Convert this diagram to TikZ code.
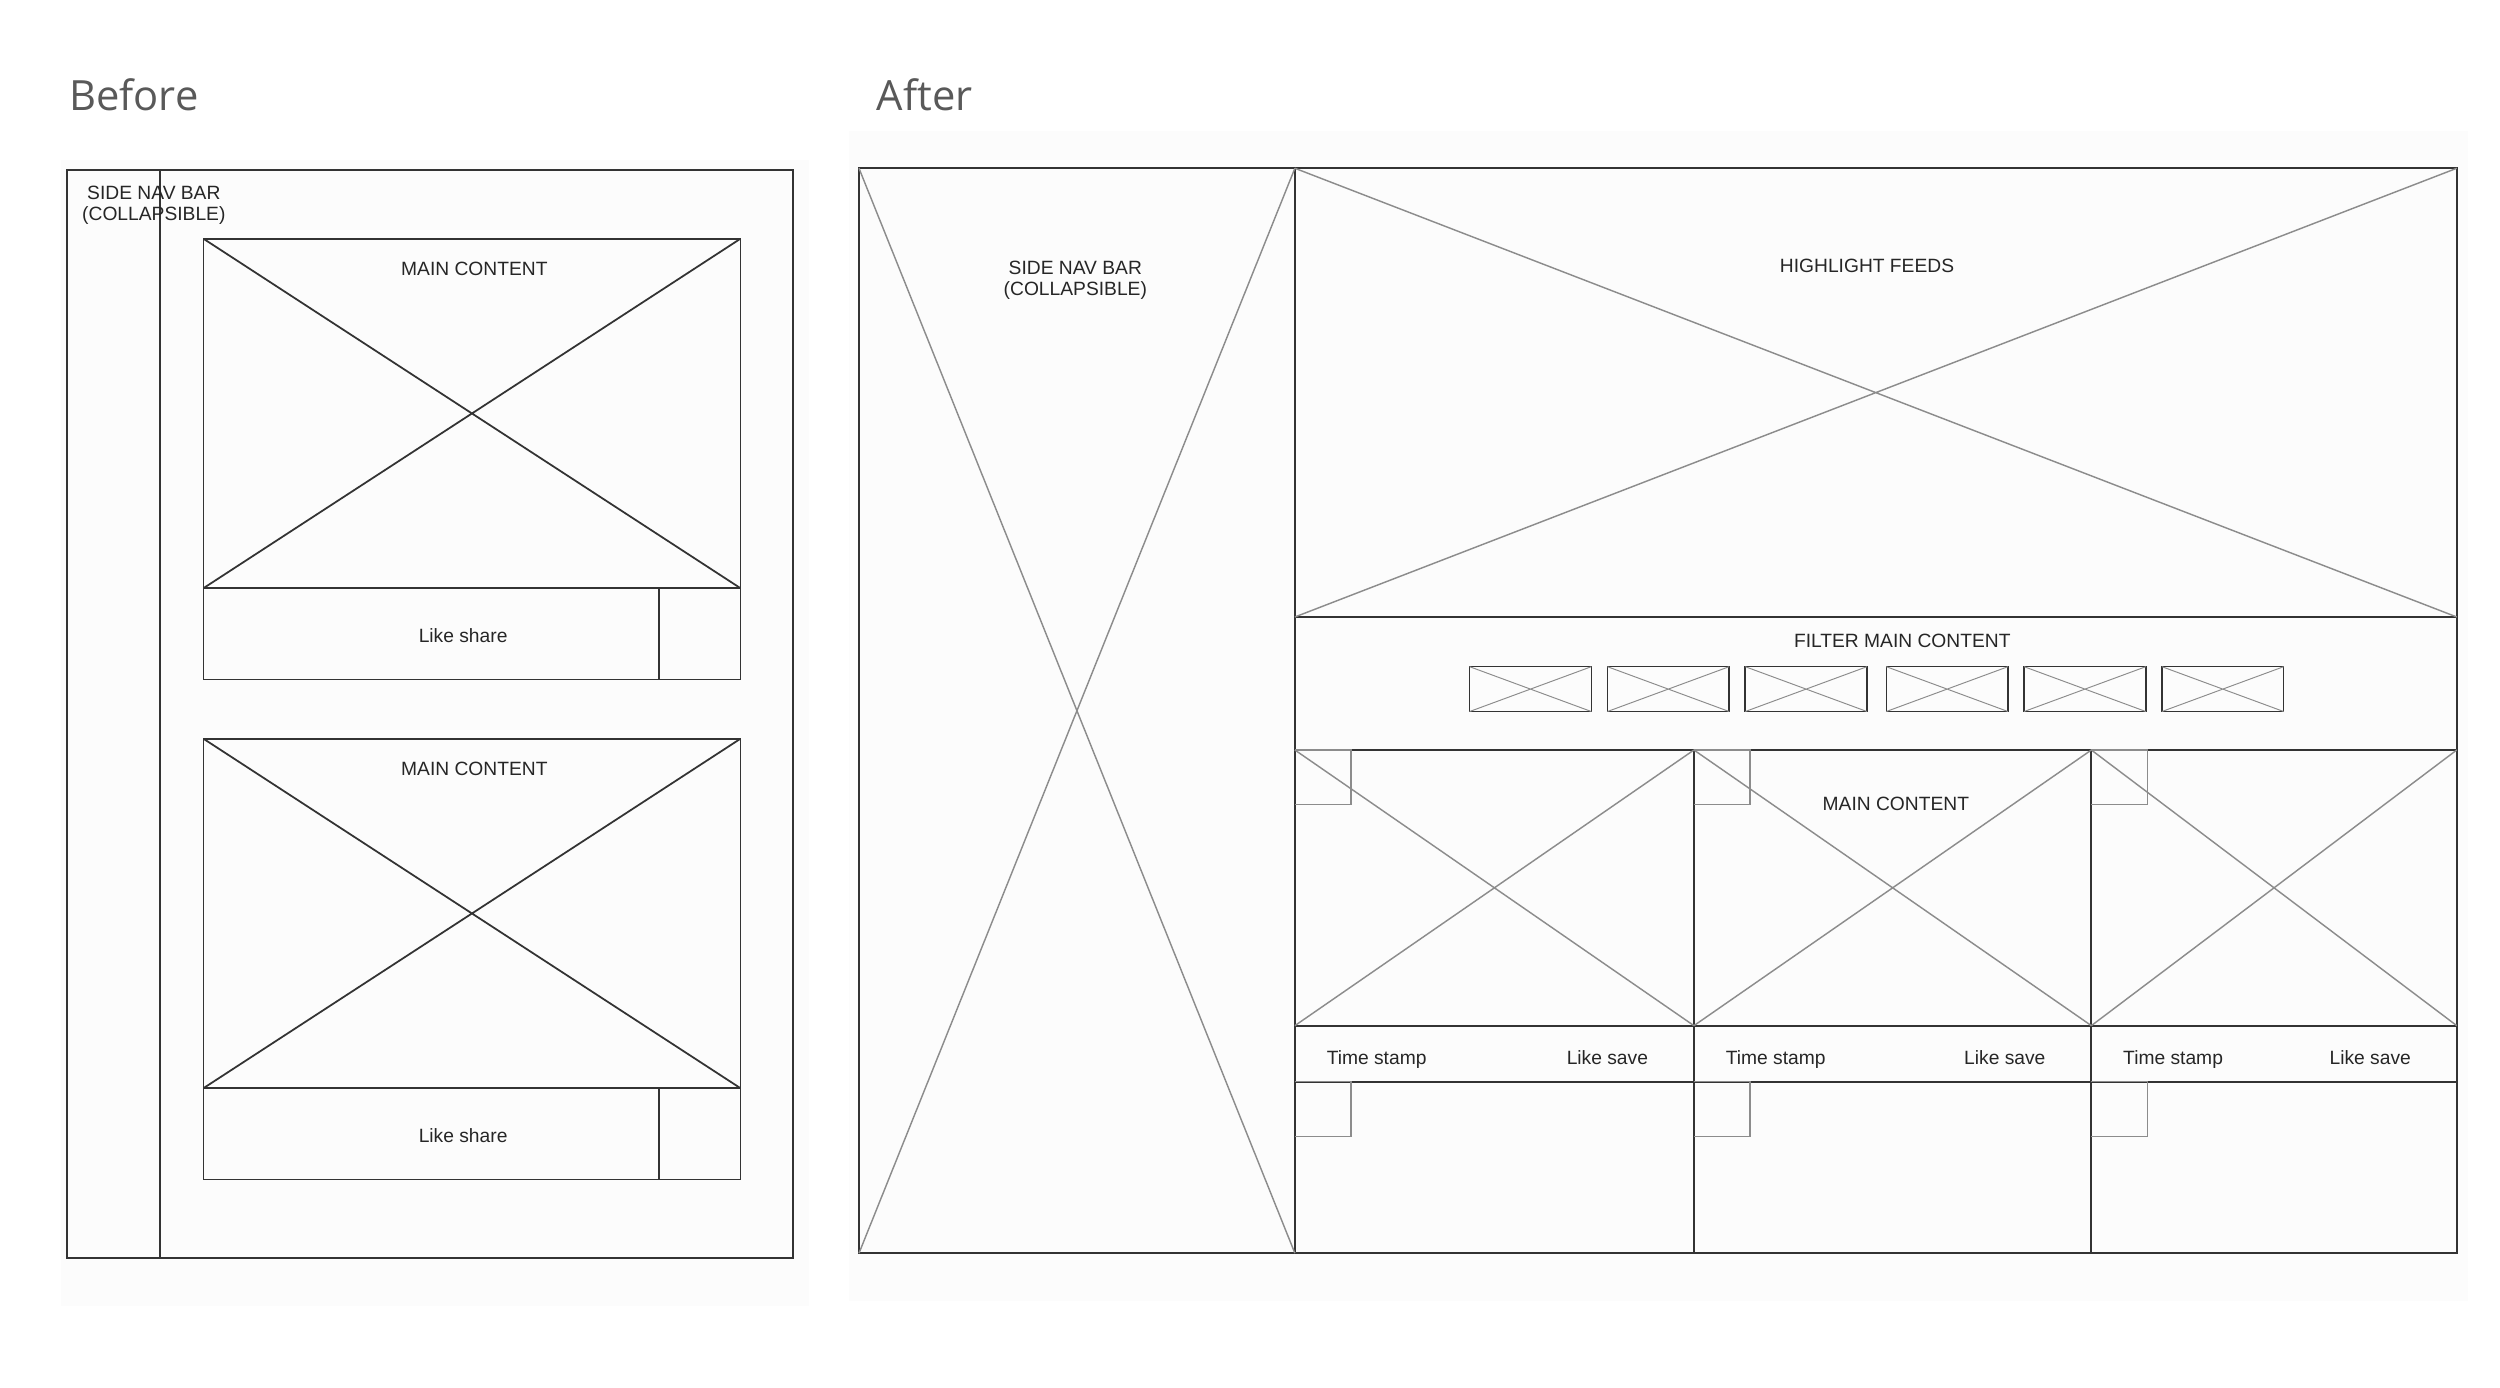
\documentclass[tikz,border=0pt]{standalone}
\usepackage{fontspec}
\setmainfont{Liberation Sans}
\newfontfamily\titlefont{Open Sans}
\begin{document}
\begin{tikzpicture}[x=1pt,y=-1pt,
  dk/.style={draw=black!80,line width=1.1pt},
  lt/.style={draw=black!45,line width=0.9pt},
  lbl/.style={font=\fontsize{12}{13}\selectfont,text=black!85,inner sep=0pt,align=center},
  sl/.style={lbl,text height=9pt,text depth=3pt},
  ttl/.style={font=\titlefont\fontsize{26}{28}\selectfont,text=black!65,anchor=west,inner sep=0pt}]
\useasboundingbox[fill=white] (0,0) rectangle (1560,866);
\fill[black!1] (38,100) rectangle (505,815);
\fill[black!1] (530,82) rectangle (1540,812);
\node[ttl] (tb) at (43,59) {Before};
\node[ttl] (ta) at (547,59) {After};
% Before
\draw[dk] (42,106) rectangle (495,785);
\draw[dk] (100,106) -- (100,785);
\node[lbl] (bnav) at (96,128) {SIDE NAV BAR\\(COLLAPSIBLE)};
\foreach \t/\b/\n in {149/424/1,461/736/2}{
  \pgfmathsetmacro\m{\b-57}
  \draw[dk] (127,\t) rectangle (462,\b);
  \draw[dk] (127,\m) -- (462,\m);
  \draw[dk] (411,\m) -- (411,\b);
  \draw[dk] (127,\t) -- (462,\m) (462,\t) -- (127,\m);
  \node[sl,fill=black!1,inner sep=1pt] (mc\n) at (296,\t+20) {MAIN CONTENT};
  \node[sl] (ls\n) at (289,\b-26) {Like share};
}
% After
\draw[dk] (536,105) rectangle (1533,782);
\draw[dk] (808,105) -- (808,782);
\draw[lt] (536,105) -- (808,782) (808,105) -- (536,782);
\node[lbl,fill=black!1,inner sep=1pt] (anav) at (671,175) {SIDE NAV BAR\\(COLLAPSIBLE)};
\draw[dk] (808,385) -- (1533,385);
\draw[lt] (808,105) -- (1533,385) (1533,105) -- (808,385);
\node[sl,fill=black!1,inner sep=1pt] (hf) at (1165,167) {HIGHLIGHT FEEDS};
\node[sl] (fmc) at (1187,401) {FILTER MAIN CONTENT};
\foreach \x in {917,1003,1089,1177,1263,1349}{
  \draw[dk,line width=0.9pt] (\x,416) rectangle (\x+76,444);
  \draw[lt,line width=0.6pt] (\x,416) -- (\x+76,444) (\x+76,416) -- (\x,444);
}
\draw[dk] (808,468) -- (1533,468);
\draw[dk] (808,640) -- (1533,640);
\draw[dk] (808,675) -- (1533,675);
\draw[dk] (1057,468) -- (1057,782);
\draw[dk] (1305,468) -- (1305,782);
\foreach \a/\b in {808/1057,1057/1305,1305/1533}{
  \draw[lt] (\a,468) -- (\b,640) (\b,468) -- (\a,640);
  \draw[lt] (\a,468) -- (\a+35,468) -- (\a+35,502) -- (\a,502);
  \draw[lt] (\a,675) -- (\a+35,675) -- (\a+35,709) -- (\a,709);
  \node[sl] at (\a+51,661) {Time stamp};
  \node[sl] at (\b-54,661) {Like save};
}
\node[sl,fill=black!1,inner sep=1pt] (mca) at (1183,503) {MAIN CONTENT};
\end{tikzpicture}
\end{document}
